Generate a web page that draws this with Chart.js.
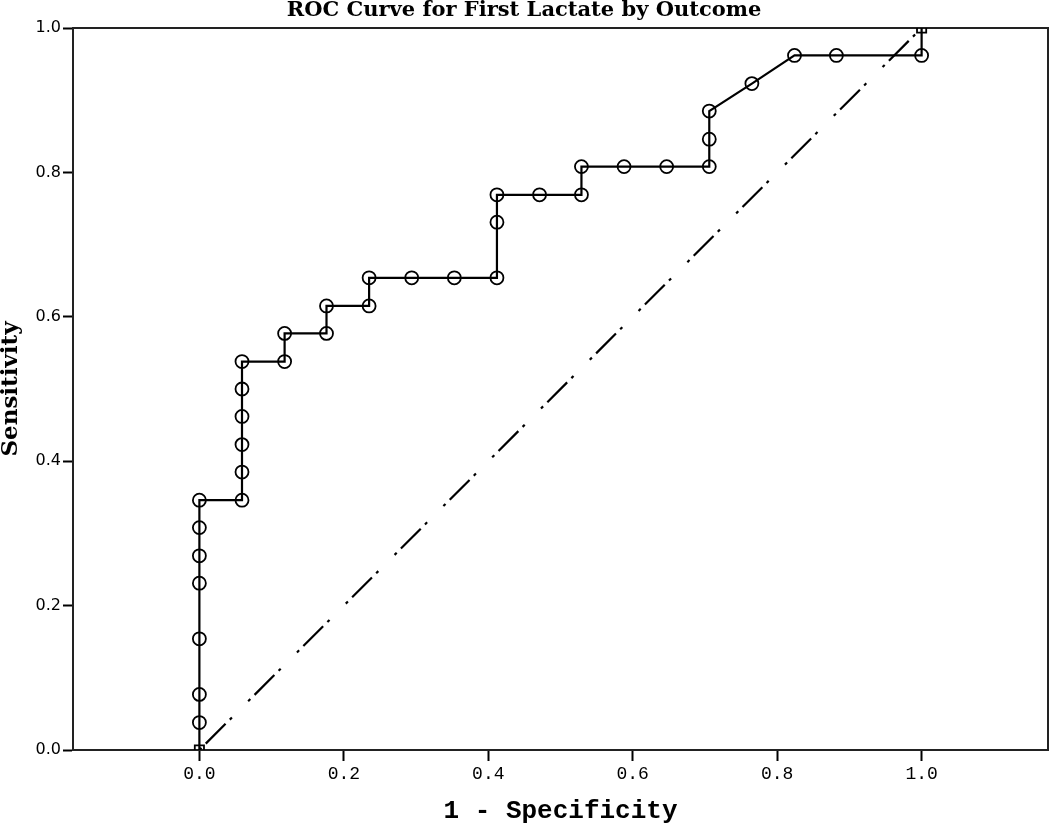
<!DOCTYPE html>
<html>
<head>
<meta charset="utf-8">
<script src="https://cdn.jsdelivr.net/npm/chart.js@4.4.0/dist/chart.umd.min.js"></script>
<style>
  body { margin: 0; background: #fff; }
  canvas { display: block; }
</style>
</head>
<body>
<canvas id="roc-chart" width="1050" height="824"></canvas>
<script>
// 1 - specificity (steps of 1/17) and sensitivity (steps of 1/26)
var fpr = [0, 0, 0, 0, 0, 0, 0, 0,
  0.059, 0.059, 0.059, 0.059, 0.059, 0.059,
  0.118, 0.118, 0.176, 0.176, 0.235, 0.235,
  0.294, 0.353, 0.412, 0.412, 0.412,
  0.471, 0.529, 0.529, 0.588, 0.647, 0.706, 0.706, 0.706,
  0.765, 0.824, 0.882, 1.0, 1.0];
var tpr = [0, 0.038, 0.077, 0.154, 0.231, 0.269, 0.308, 0.346,
  0.346, 0.385, 0.423, 0.462, 0.5, 0.538,
  0.538, 0.577, 0.577, 0.615, 0.615, 0.654,
  0.654, 0.654, 0.654, 0.731, 0.769,
  0.769, 0.769, 0.808, 0.808, 0.808, 0.808, 0.846, 0.885,
  0.923, 0.962, 0.962, 0.962, 1.0];
var refX = [0, 1];
var refY = [0, 1];
var xTicks = [0, 0.2, 0.4, 0.6, 0.8, 1.0];

var curve = fpr.map(function(v, i) { return {x: v, y: tpr[i]}; });
var diag = refX.map(function(v, i) { return {x: v, y: refY[i]}; });
var styles = curve.map(function(p, i) {
  return (i === 0 || i === curve.length - 1) ? 'rect' : 'circle';
});

var bgAndFrame = {
  id: 'bgAndFrame',
  beforeDraw: function(chart) {
    var c = chart.ctx;
    c.save();
    c.fillStyle = '#fff';
    c.fillRect(0, 0, chart.width, chart.height);
    c.restore();
  },
  beforeDatasetsDraw: function(chart) {
    var a = chart.chartArea, c = chart.ctx;
    c.save();
    c.strokeStyle = '#222';
    c.lineWidth = 2;
    c.beginPath();
    c.moveTo(a.left, a.top);
    c.lineTo(a.right, a.top);
    c.lineTo(a.right, a.bottom);
    c.stroke();
    c.restore();
  }
};

var ctx = document.getElementById('roc-chart').getContext('2d');
var chart = new Chart(ctx, {
  type: 'scatter',
  data: {
    datasets: [{
      label: 'ROC',
      data: curve,
      showLine: true,
      borderColor: '#000',
      borderWidth: 2.2,
      tension: 0,
      pointStyle: styles,
      pointRadius: 6.5,
      pointBorderWidth: 1.8,
      pointBorderColor: '#000',
      pointBackgroundColor: 'rgba(0,0,0,0)',
      clip: 0
    }, {
      label: 'Reference',
      data: diag,
      showLine: true,
      borderColor: '#000',
      borderWidth: 2.2,
      borderDash: [3, 6, 28, 6, 3, 23],
      pointRadius: 0,
      clip: 0
    }]
  },
  options: {
    responsive: false,
    animation: false,
    devicePixelRatio: 1,
    layout: { autoPadding: false, padding: { right: 2, top: 0, left: 0, bottom: 0 } },
    plugins: {
      legend: { display: false },
      tooltip: { enabled: false },
      title: {
        display: true,
        text: 'ROC Curve for First Lactate by Outcome',
        color: '#000',
        font: { family: 'DejaVu Serif', size: 21, weight: 'bold', lineHeight: 1 },
        padding: { top: 0, bottom: 7 }
      }
    },
    scales: {
      x: {
        type: 'linear',
        min: -0.175,
        max: 1.175,
        afterBuildTicks: function(scale) {
          scale.ticks = xTicks.map(function(v) { return {value: v}; });
        },
        afterFit: function(scale) { scale.height = 74; },
        ticks: {
          color: '#000',
          padding: 2,
          font: { family: 'Liberation Mono', size: 18 },
          callback: function(v) { return v.toFixed(1); }
        },
        grid: { drawOnChartArea: false, tickLength: 11, tickColor: '#000', tickWidth: 2 },
        border: { display: true, color: '#222', width: 2 },
        title: {
          display: true,
          text: '1 - Specificity',
          color: '#000',
          font: { family: 'Liberation Mono', size: 26, weight: 'bold', lineHeight: 1 },
          padding: 0
        }
      },
      y: {
        type: 'linear',
        min: 0,
        max: 1,
        afterFit: function(scale) { scale.width = 73; },
        ticks: {
          stepSize: 0.2,
          color: '#000',
          padding: 2,
          font: { family: 'DejaVu Sans', size: 16 },
          callback: function(v) { return v.toFixed(1); }
        },
        grid: { drawOnChartArea: false, tickLength: 10, tickColor: '#000', tickWidth: 2 },
        border: { display: true, color: '#222', width: 2 },
        title: {
          display: true,
          text: 'Sensitivity',
          color: '#000',
          font: { family: 'DejaVu Serif', size: 23, weight: 'bold', lineHeight: 1 },
          padding: 0
        }
      }
    }
  },
  plugins: [bgAndFrame]
});
</script>
</body>
</html>
